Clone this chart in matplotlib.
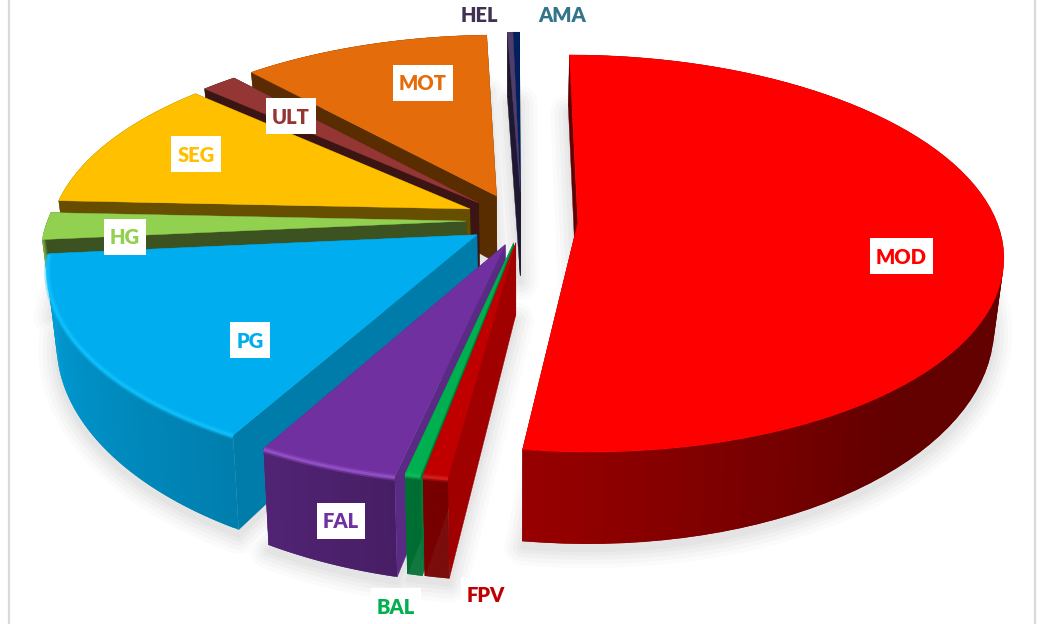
import matplotlib
matplotlib.use("Agg")
import matplotlib.pyplot as plt
import numpy as np
from matplotlib.colors import to_rgb
from matplotlib.patches import Rectangle

# clockwise from 12 o'clock, in percent
LABELS = ["MOD", "FPV", "BAL", "FAL", "PG", "HG", "SEG", "ULT", "MOT", "HEL", "AMA"]
SHARES = [52.15, 0.8, 0.5, 4.6, 15.45, 2.2, 11.0, 1.6, 11.15, 0.25, 0.3]

# explode per slice, in disc units (pie radius = 1)
EXPLODE_U = [0.150, 0.002, -0.003, -0.023, -0.090, -0.117, -0.109, -0.088, -0.045, 0.013, 0.013]
EXPLODE_V = [0.013, -0.094, -0.094, -0.104, -0.052, 0.021, 0.087, 0.120, 0.159, 0.180, 0.180]
HEIGHT_SCALE = [0.95, 1, 1, 1, 1, 1, 1, 1, 1, 1.25, 1.25]

TOP = ["#FF0000", "#C00000", "#00B050", "#7030A0", "#00AEEF", "#92D050",
       "#FFC000", "#943634", "#E46C0A", "#4F3E6B", "#002060"]
WALL = ["#640000", "#A00000", "#007A38", "#5B2A85", "#007CAB", "#3C5220",
        "#664F00", "#3B1513", "#5A2D00", "#1F1830", "#0D1530"]
HILITE = [None, "#E02020", "#10C060", "#9B55D0", "#10C4FF", None, None, None, None, None, None]
TEXT = ["#FF0000", "#C00000", "#00B050", "#7030A0", "#00AEEF", "#92D050",
        "#FFC000", "#943634", "#E46C0A", "#403152", "#31748C"]
LABEL_XY = [(901, 256), (486, 595), (396, 606), (341, 521), (250, 340), (125, 237),
            (196, 154), (291, 116), (423, 83), (479, 14), (562, 14)]
# far slices first, so the nearer ones paint over them
DRAW_ORDER = [10, 9, 8, 7, 6, 5, 4, 3, 2, 1, 0]

# projection of the disc to the picture (pixels)
CX, CY = 515, 225
RX, RY = 420, 187
V_STRETCH = 1.04
PERSP = 0.15
HEIGHT = 70
PERSP_H = 0.27
BOTTOM_SHRINK = 0.98


def project(u, v, scale=1):
    w = 1 + PERSP * v
    x = CX + RX * u / w
    y = CY - RY * v / w
    h = scale * HEIGHT / (1 + PERSP_H * v)
    xb = CX + (x - CX) * BOTTOM_SHRINK
    return x, y, xb, y + h


def rim_shade(theta):
    # light falls from the lower left, the back slices stay dark
    return np.interp(theta, [90, 140, 187, 207, 265, 268], [0.39, 0.39, 0.6, 0.72, 0.92, 0.4])


fig = plt.figure(figsize=(10.51, 6.24), dpi=100)
ax = fig.add_axes([0, 0, 1, 1])
ax.set_xlim(0, 1051)
ax.set_ylim(624, 0)
ax.axis("off")
ax.axvline(8.5, color="#D9D9D9", lw=1.6, zorder=0)
ax.axvline(1035, color="#D9D9D9", lw=1.6, zorder=0)

edges = np.concatenate([[0], np.cumsum(SHARES)]) * 360 / sum(SHARES)

geo = {}
for i in range(len(LABELS)):
    th = np.linspace(edges[i], edges[i + 1], 80)
    u = EXPLODE_U[i] + np.sin(np.radians(th))
    v = EXPLODE_V[i] + V_STRETCH * np.cos(np.radians(th))
    geo[i] = (th, project(u, v, HEIGHT_SCALE[i]), project(EXPLODE_U[i], EXPLODE_V[i], HEIGHT_SCALE[i]))

# soft shadow from the bottom faces, one pass per blur step
for lw, col in [(26, "#FBFBFB"), (20, "#F6F6F6"), (14, "#F0F0F0"), (8, "#EAEAEA"), (3, "#E4E4E4")]:
    for i in DRAW_ORDER:
        th, (x, y, xb, yb), (ax0, ay0, axb, ayb) = geo[i]
        ax.fill(np.r_[axb, xb], np.r_[ayb, yb] + 6, facecolor=col, edgecolor=col, lw=lw,
                joinstyle="round", zorder=1)

z = 2
for i in DRAW_ORDER:
    th, (x, y, xb, yb), (ax0, ay0, axb, ayb) = geo[i]
    base = np.array(to_rgb(TOP[i]))
    # radial walls
    for k in (0, -1):
        ax.fill([ax0, x[k], xb[k], axb], [ay0, y[k], yb[k], ayb], color=WALL[i], lw=0.3, zorder=z)
    z += 1
    # outer rim, strips overlap so no seams show
    for k in range(len(th) - 1):
        n = min(k + 2, len(th) - 1)
        col = np.clip(base * rim_shade(th[k]), 0, 1)
        ax.fill([x[k], x[n], xb[n], xb[k]], [y[k], y[n], yb[n], yb[k]], color=col, lw=0, zorder=z)
        z += 0.001
    z += 1
    ax.fill(np.r_[ax0, x], np.r_[ay0, y], color=TOP[i], lw=0.3, zorder=z)
    z += 1
    if HILITE[i]:
        ax.plot(x, y + 1, color=HILITE[i], lw=4.5, alpha=0.35, solid_capstyle="butt", zorder=z)
        ax.plot(x, y + 1, color=HILITE[i], lw=2, alpha=0.8, solid_capstyle="butt", zorder=z)
        z += 1

renderer = fig.canvas.get_renderer()
for i, name in enumerate(LABELS):
    lx, ly = LABEL_XY[i]
    t = ax.text(lx, ly + 1, name, color=TEXT[i], family="Lato", weight="heavy", fontsize=14.5,
                ha="center", va="center", zorder=z + 1)
    box = t.get_window_extent(renderer)
    ax.add_patch(Rectangle((lx - box.width / 2 - 6, ly - 18), box.width + 12, 36,
                           fc="white", ec="none", zorder=z))

fig.savefig("out.png", dpi=100)
